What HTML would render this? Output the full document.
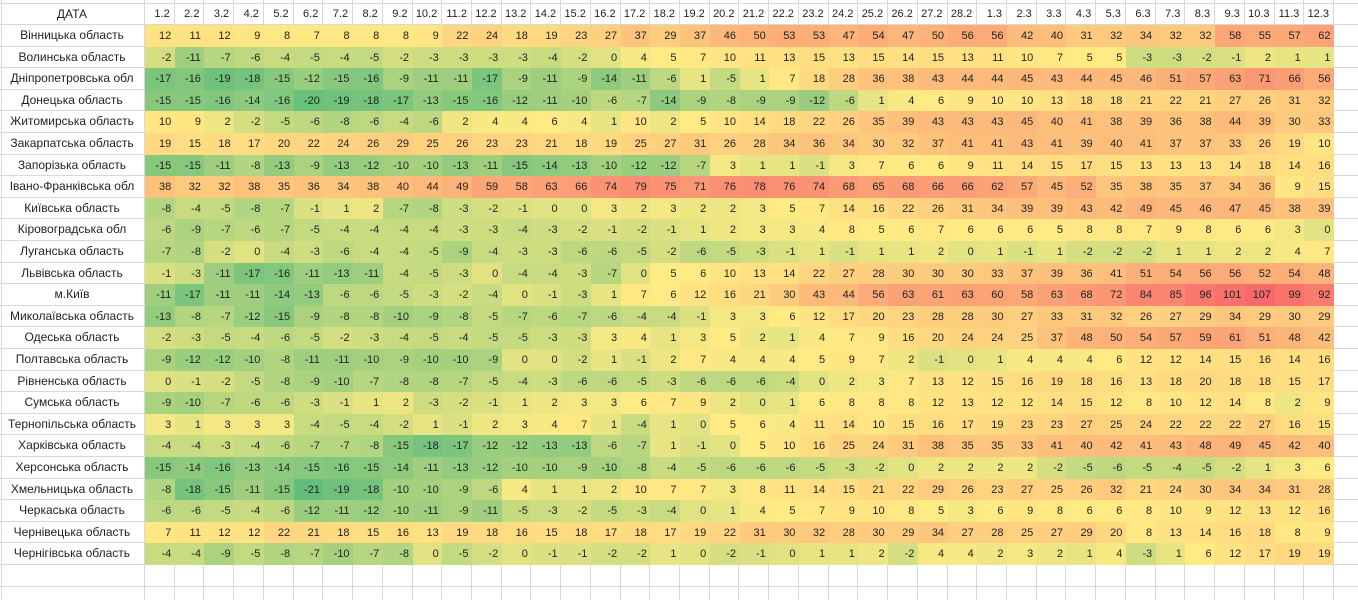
<!DOCTYPE html>
<html><head><meta charset="utf-8">
<style>
html,body{margin:0;padding:0;background:#fff;width:1358px;height:600px;overflow:hidden;}
#c{position:relative;width:1358px;height:600px;font-family:"Liberation Sans","DejaVu Sans",sans-serif;font-size:11px;color:#222;}
.cell{position:absolute;box-sizing:border-box;white-space:nowrap;overflow:hidden;}
.g{border-right:1px solid #d8d8d8;border-bottom:1px solid #d8d8d8;}
.n{text-align:right;padding-right:4px;}
.l{text-align:center;font-size:12px;}
</style></head><body><div id="c"></div>
<script>
var names=["Вінницька область","Волинська область","Дніпропетровська обл","Донецька область","Житомирська область","Закарпатська область","Запорізька область","Івано-Франківська обл","Київська область","Кіровоградська обл","Луганська область","Львівська область","м.Київ","Миколаївська область","Одеська область","Полтавська область","Рівненська область","Сумська область","Тернопільська область","Харківська область","Херсонська область","Хмельницька область","Черкаська область","Чернівецька область","Чернігівська область"];
var D=[
"12 11 12 9 8 7 8 8 8 9 22 24 18 19 23 27 37 29 37 46 50 53 53 47 54 47 50 56 56 42 40 31 32 34 32 32 58 55 57 62",
"-2 -11 -7 -6 -4 -5 -4 -5 -2 -3 -3 -3 -3 -4 -2 0 4 5 7 10 11 13 15 13 15 14 15 13 11 10 7 5 5 -3 -3 -2 -1 2 1 1",
"-17 -16 -19 -18 -15 -12 -15 -16 -9 -11 -11 -17 -9 -11 -9 -14 -11 -6 1 -5 1 7 18 28 36 38 43 44 44 45 43 44 45 46 51 57 63 71 66 56",
"-15 -15 -16 -14 -16 -20 -19 -18 -17 -13 -15 -16 -12 -11 -10 -6 -7 -14 -9 -8 -9 -9 -12 -6 1 4 6 9 10 10 13 18 18 21 22 21 27 26 31 32",
"10 9 2 -2 -5 -6 -8 -6 -4 -6 2 4 4 6 4 1 10 2 5 10 14 18 22 26 35 39 43 43 43 45 40 41 38 39 36 38 44 39 30 33",
"19 15 18 17 20 22 24 26 29 25 26 23 23 21 18 19 25 27 31 26 28 34 36 34 30 32 37 41 41 43 41 39 40 41 37 37 33 26 19 10",
"-15 -15 -11 -8 -13 -9 -13 -12 -10 -10 -13 -11 -15 -14 -13 -10 -12 -12 -7 3 1 1 -1 3 7 6 6 9 11 14 15 17 15 13 13 13 14 18 14 16",
"38 32 32 38 35 36 34 38 40 44 49 59 58 63 66 74 79 75 71 76 78 76 74 68 65 68 66 66 62 57 45 52 35 38 35 37 34 36 9 15",
"-8 -4 -5 -8 -7 -1 1 2 -7 -8 -3 -2 -1 0 0 3 2 3 2 2 3 5 7 14 16 22 26 31 34 39 39 43 42 49 45 46 47 45 38 39",
"-6 -9 -7 -6 -7 -5 -4 -4 -4 -4 -3 -3 -4 -3 -2 -1 -2 -1 1 2 3 3 4 8 5 6 7 6 6 6 5 8 8 7 9 8 6 6 3 0",
"-7 -8 -2 0 -4 -3 -6 -4 -4 -5 -9 -4 -3 -3 -6 -6 -5 -2 -6 -5 -3 -1 1 -1 1 1 2 0 1 -1 1 -2 -2 -2 1 1 2 2 4 7",
"-1 -3 -11 -17 -16 -11 -13 -11 -4 -5 -3 0 -4 -4 -3 -7 0 5 6 10 13 14 22 27 28 30 30 30 33 37 39 36 41 51 54 56 56 52 54 48",
"-11 -17 -11 -11 -14 -13 -6 -6 -5 -3 -2 -4 0 -1 -3 1 7 6 12 16 21 30 43 44 56 63 61 63 60 58 63 68 72 84 85 96 101 107 99 92",
"-13 -8 -7 -12 -15 -9 -8 -8 -10 -9 -8 -5 -7 -6 -7 -6 -4 -4 -1 3 3 6 12 17 20 23 28 28 30 27 33 31 32 26 27 29 34 29 30 29",
"-2 -3 -5 -4 -6 -5 -2 -3 -4 -5 -4 -5 -5 -3 -3 3 4 1 3 5 2 1 4 7 9 16 20 24 24 25 37 48 50 54 57 59 61 51 48 42",
"-9 -12 -12 -10 -8 -11 -11 -10 -9 -10 -10 -9 0 0 -2 1 -1 2 7 4 4 4 5 9 7 2 -1 0 1 4 4 4 6 12 12 14 15 16 14 16",
"0 -1 -2 -5 -8 -9 -10 -7 -8 -8 -7 -5 -4 -3 -6 -6 -5 -3 -6 -6 -6 -4 0 2 3 7 13 12 15 16 19 18 16 13 18 20 18 18 15 17",
"-9 -10 -7 -6 -6 -3 -1 1 2 -3 -2 -1 1 2 3 3 6 7 9 2 0 1 6 8 8 8 12 13 12 12 14 15 12 8 10 12 14 8 2 9",
"3 1 3 3 3 -4 -5 -4 -2 1 -1 2 3 4 7 1 -4 1 0 5 6 4 11 14 10 15 16 17 19 23 23 27 25 24 22 22 22 27 16 15",
"-4 -4 -3 -4 -6 -7 -7 -8 -15 -18 -17 -12 -12 -13 -13 -6 -7 1 -1 0 5 10 16 25 24 31 38 35 35 33 41 40 42 41 43 48 49 45 42 40",
"-15 -14 -16 -13 -14 -15 -16 -15 -14 -11 -13 -12 -10 -10 -9 -10 -8 -4 -5 -6 -6 -6 -5 -3 -2 0 2 2 2 2 -2 -5 -6 -5 -4 -5 -2 1 3 6",
"-8 -18 -15 -11 -15 -21 -19 -18 -10 -10 -9 -6 4 1 1 2 10 7 7 3 8 11 14 15 21 22 29 26 23 27 25 26 32 21 24 30 34 34 31 28",
"-6 -6 -5 -4 -6 -12 -11 -12 -10 -11 -9 -11 -5 -3 -2 -5 -3 -4 0 1 4 5 7 9 10 8 5 3 6 9 8 6 6 8 10 9 12 13 12 16",
"7 11 12 12 22 21 18 15 16 13 19 18 16 15 18 17 18 17 19 22 31 30 32 28 30 29 34 27 28 25 27 29 20 8 13 14 16 18 8 9",
"-4 -4 -9 -5 -8 -7 -10 -7 -8 0 -5 -2 0 -1 -1 -2 -2 1 0 -2 -1 0 1 1 2 -2 4 4 2 3 2 1 4 -3 1 6 12 17 19 19"
].map(function(s){return s.split(" ").map(Number);});
var hdr=[];for(var i=1;i<=28;i++)hdr.push(i+".2");for(i=1;i<=12;i++)hdr.push(i+".3");
var all=[];D.forEach(function(r){all=all.concat(r);});
var sorted=all.slice().sort(function(a,b){return a-b;});
var mn=sorted[0],mx=sorted[sorted.length-1],md=sorted[Math.floor(sorted.length/2)];
function lerp(a,b,t){return [0,1,2].map(function(k){return Math.round(a[k]+(b[k]-a[k])*t);});}
var G=[99,190,123],Y=[255,235,132],R=[248,105,107];
function col(v){var c;if(v<=md)c=lerp(G,Y,(v-mn)/(md-mn));else c=lerp(Y,R,(v-md)/(mx-md));return "rgb("+c.join(",")+")";}
var C=document.getElementById("c"),h="";
var X0=145,CW=29.725,Y0=25,RH=21.6;
function cell(x,y,w,hh,cls,txt,bg){h+='<div class="cell '+cls+'" style="left:'+x.toFixed(2)+'px;top:'+y.toFixed(2)+'px;width:'+w.toFixed(2)+'px;height:'+hh.toFixed(2)+'px;line-height:'+hh.toFixed(2)+'px;'+(bg?'background:'+bg+';':'')+'">'+txt+'</div>';}
cell(0,-18,X0,22,"g l","");
for(i=0;i<40;i++)cell(X0+i*CW,-18,CW,22,"g","");
cell(X0+40*CW,-18,40,22,"g","");
cell(0,4,X0,21,"g l","ДАТА");
for(i=0;i<40;i++)cell(X0+i*CW,4,CW,21,"g n",hdr[i]);
cell(X0+40*CW,4,40,21,"g","");
for(var r=0;r<25;r++){var y=Y0+r*RH;
 cell(0,y,X0,RH,"g l",names[r]);
 for(i=0;i<40;i++){var v=D[r][i];cell(X0+i*CW,y,CW+0.5,RH+0.5,"n",v,col(v));}
 cell(X0+40*CW,y,40,RH,"g","");
}
for(var e=0;e<2;e++){var y2=Y0+25*RH+e*RH;cell(0,y2,X0,RH,"g","");for(i=0;i<41;i++)cell(X0+i*CW,y2,i<40?CW:40,RH,"g","");}
h+='<div class="cell" style="left:1px;top:0;width:1px;height:600px;background:#d8d8d8"></div>';
C.innerHTML=h;
</script></body></html>
